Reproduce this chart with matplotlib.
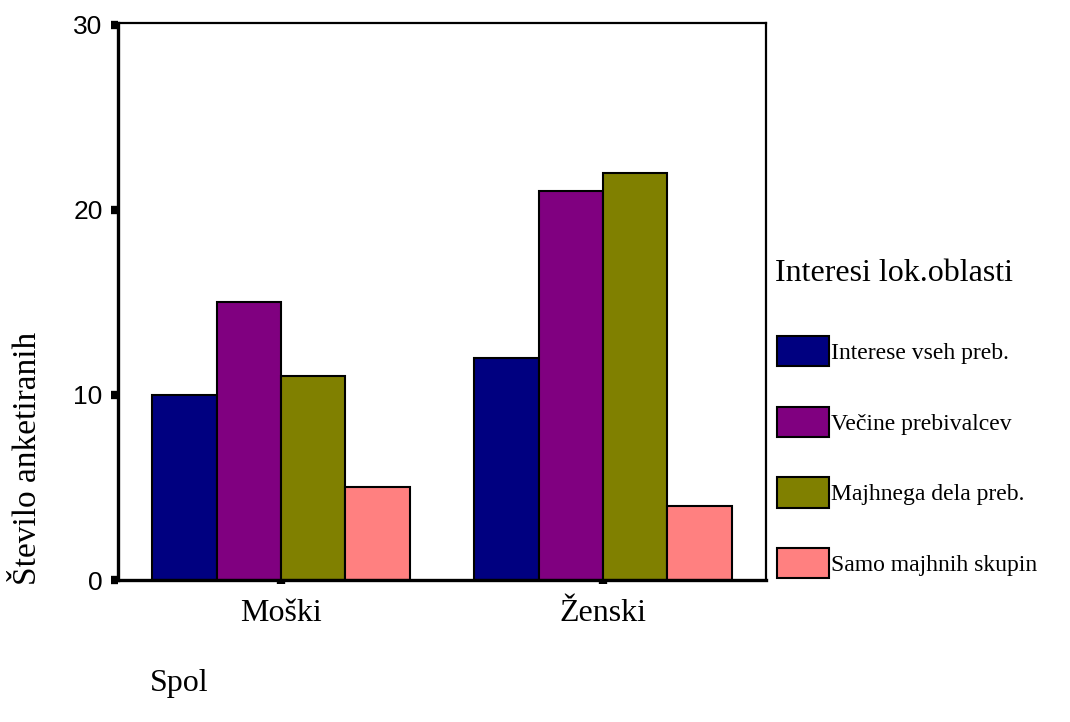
import matplotlib
matplotlib.use("Agg")
import matplotlib.pyplot as plt
import numpy as np

# data
spol = ["Moški", "Ženski"]
serije = ["Interese vseh preb.", "Večine prebivalcev", "Majhnega dela preb.", "Samo majhnih skupin"]
vrednosti = [
    [10, 12],
    [15, 21],
    [11, 22],
    [5, 4],
]
barve = ["#000080", "#800080", "#808000", "#FF8080"]
yticks = [0, 10, 20, 30]

serif = ["Liberation Serif", "DejaVu Serif"]
sans = ["Liberation Sans", "DejaVu Sans"]

fig = plt.figure(figsize=(10.70, 7.22), dpi=100)
ax = fig.add_axes([118 / 1070, 1 - 580 / 722, (766 - 118) / 1070, (580 - 23) / 722])

x = np.arange(len(spol))
w = 0.2
for i, (ime, vals) in enumerate(zip(serije, vrednosti)):
    ax.bar(x + (i - 1.5) * w, vals, width=w, color=barve[i], edgecolor="black",
           linewidth=1.5, label=ime, zorder=2)

ax.set_xlim(-0.506, 1.506)
ax.set_ylim(0, 30.1)
ax.set_yticks(yticks)
ax.set_yticklabels([str(t) for t in yticks], family=sans, fontsize=19)
ax.set_xticks(x)
ax.set_xticklabels(spol, family=serif, fontsize=23)

ax.tick_params(axis="y", direction="out", length=5, width=6, pad=6, color="black")
ax.tick_params(axis="x", direction="out", length=3, width=6, pad=11, color="black")

ax.spines["left"].set_linewidth(2.4)
ax.spines["bottom"].set_linewidth(2.4)
ax.spines["top"].set_linewidth(1.6)
ax.spines["right"].set_linewidth(1.6)

# axis titles
fig.text(28 / 1070, 1 - 458 / 722, "Število anketiranih", rotation=90, ha="center", va="center",
         family=serif, fontsize=24)
fig.text(150 / 1070, 1 - 683 / 722, "Spol", ha="left", va="center", family=serif, fontsize=23)

# legend
fig.text(775 / 1070, 1 - 273 / 722, "Interesi lok.oblasti", ha="left", va="center",
         family=serif, fontsize=23)
leg = ax.legend(loc="upper left", bbox_to_anchor=(777 / 1070, 1 - 336 / 722),
                bbox_transform=fig.transFigure, frameon=False,
                prop={"family": serif, "size": 17}, handlelength=2.2, handleheight=1.6,
                handletextpad=0.1, labelspacing=1.71, borderpad=0, borderaxespad=0)
for p in leg.get_patches():
    p.set_linewidth(1.5)

fig.savefig("out.png", dpi=100)
